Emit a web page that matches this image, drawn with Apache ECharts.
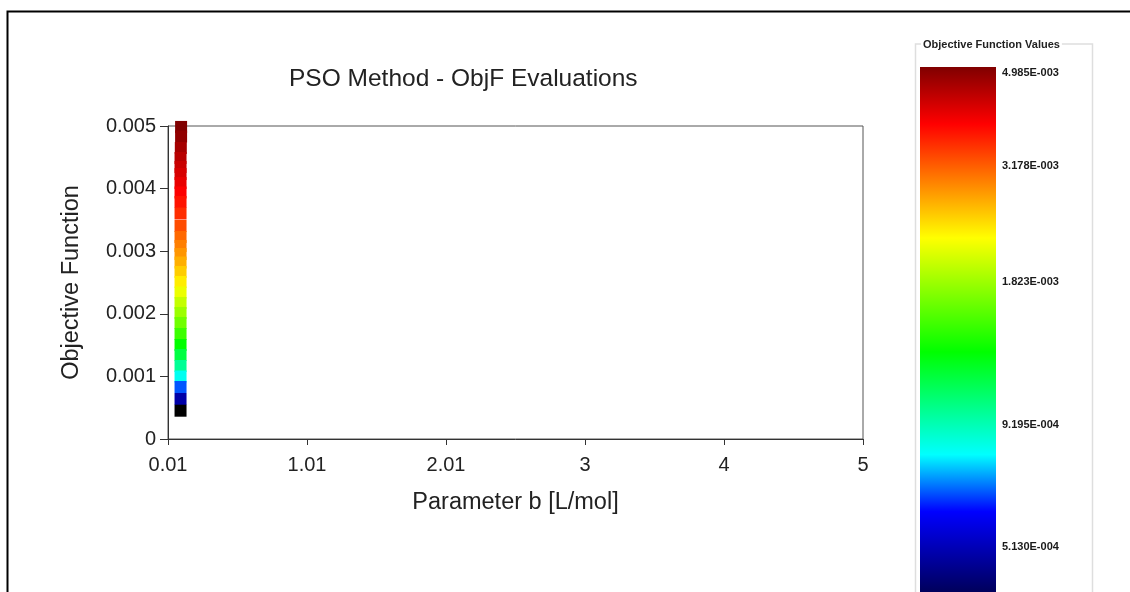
<!DOCTYPE html>
<html>
<head>
<meta charset="utf-8">
<title>PSO Method - ObjF Evaluations</title>
<script src="https://cdn.jsdelivr.net/npm/echarts@6/dist/echarts.min.js"></script>
<style>
  html, body { margin: 0; padding: 0; background: #fff; }
  #chart { width: 1130px; height: 592px; }
</style>
</head>
<body>
<div id="chart"></div>
<script>
// Objective-function evaluations of the PSO run (parameter b vs. ObjF)
const paramB = [0.104, 0.104, 0.102, 0.1, 0.1, 0.1, 0.1, 0.1, 0.1, 0.1,
                0.1, 0.1, 0.1, 0.1, 0.1, 0.1, 0.1, 0.1, 0.1, 0.1,
                0.1, 0.1, 0.1, 0.1, 0.1, 0.1, 0.1, 0.1, 0.1];
const objF = [0.004985, 0.004832, 0.004649, 0.004489, 0.004345, 0.004233, 0.004089, 0.003938, 0.003786, 0.003602,
              0.003403, 0.003227, 0.003083, 0.002955, 0.002819, 0.002668, 0.002508, 0.002340, 0.002173, 0.002013,
              0.001853, 0.001677, 0.001502, 0.001342, 0.001166, 0.000998, 0.000831, 0.000639, 0.000452];

// Axis ticks
const xTicks = [0.01, 1.008, 2.006, 3.004, 4.002, 5];
const yTicks = [0, 0.001, 0.002, 0.003, 0.004, 0.005];
// Colour-bar labels (log scale)
const legendTicks = [0.004985, 0.003178, 0.001823, 0.0009195, 0.000513];

const FONT = '"Liberation Sans", Arial, sans-serif';

// Jet-like palette, low value -> high value
const COLOR_STOPS = [[0, '#000000'], [0.22, '#0000ff'], [0.32, '#00ffff'], [0.5, '#00ff00'],
                     [0.7, '#ffff00'], [0.9, '#ff0000'], [1, '#800000']];
function hexToRgb(h) { return [1, 3, 5].map(i => parseInt(h.slice(i, i + 2), 16)); }
function samplePalette(stops, n) {
  const out = [];
  for (let k = 0; k < n; k++) {
    const t = k / (n - 1);
    let j = 0;
    while (j < stops.length - 2 && t > stops[j + 1][0]) j++;
    const [t0, c0] = stops[j], [t1, c1] = stops[j + 1];
    const u = (t - t0) / (t1 - t0);
    const a = hexToRgb(c0), b = hexToRgb(c1);
    const rgb = a.map((v, i) => Math.round(v + (b[i] - v) * u));
    out.push('rgb(' + rgb.join(',') + ')');
  }
  return out;
}
const palette = samplePalette(COLOR_STOPS, 101);
// colour-bar gradient runs top (high) to bottom (low)
const barGradient = new echarts.graphic.LinearGradient(0, 0, 0, 1,
  COLOR_STOPS.map(([t, c]) => ({ offset: 1 - t, color: c })).reverse());

const logMin = Math.log10(Math.min(...objF));
const logMax = Math.log10(Math.max(...objF));

function sciLabel(v) {
  const [m, e] = v.toExponential(3).split('e');
  const n = parseInt(e, 10);
  return m + 'E' + (n < 0 ? '-' : '+') + String(Math.abs(n)).padStart(3, '0');
}

const points = objF.map((v, i) => [paramB[i], v, Math.log10(v)]);

const chart = echarts.init(document.getElementById('chart'), null, { renderer: 'canvas' });
chart.setOption({
  animation: false,
  backgroundColor: '#ffffff',
  textStyle: { fontFamily: FONT },
  title: {
    text: 'PSO Method - ObjF Evaluations',
    left: 289, top: 67, padding: 0,
    textStyle: { fontFamily: FONT, fontSize: 24.5, fontWeight: 'normal', color: '#222' }
  },
  grid: [
    { left: 168, right: 267, top: 126, bottom: 153, show: true, borderColor: '#555', borderWidth: 1, backgroundColor: 'transparent' },
    { left: 998, width: 1, top: 72.5, height: 501 }
  ],
  xAxis: [
    {
      type: 'value', gridIndex: 0, min: 0.01, max: 5,
      name: 'Parameter b [L/mol]', nameLocation: 'middle', nameGap: 52,
      nameTextStyle: { fontFamily: FONT, fontSize: 23.5, color: '#222' },
      axisLine: { lineStyle: { color: '#333', width: 1 } },
      axisTick: { length: 6, customValues: xTicks, lineStyle: { color: '#333' } },
      axisLabel: {
        customValues: xTicks, fontFamily: FONT, fontSize: 20, color: '#222', margin: 16,
        formatter: v => String(+(+v).toFixed(2))
      },
      splitLine: { show: false }
    },
    { type: 'value', gridIndex: 1, show: false, min: 0, max: 1 }
  ],
  yAxis: [
    {
      type: 'value', gridIndex: 0, min: 0, max: 0.005, interval: 0.001,
      name: 'Objective Function', nameLocation: 'middle', nameGap: 84,
      nameTextStyle: { fontFamily: FONT, fontSize: 23.5, color: '#222' },
      axisLine: { show: true, lineStyle: { color: '#333', width: 1 } },
      axisTick: { show: true, length: 8, customValues: yTicks, lineStyle: { color: '#333' } },
      axisLabel: { customValues: yTicks, fontFamily: FONT, fontSize: 20, color: '#222', margin: 12 },
      splitLine: { show: false }
    },
    {
      type: 'value', gridIndex: 1, position: 'right', min: logMin, max: logMax,
      axisLine: { show: false }, axisTick: { show: false }, splitLine: { show: false },
      axisLabel: {
        customValues: legendTicks.map(v => Math.log10(v)), margin: 3,
        fontFamily: FONT, fontSize: 11, fontWeight: 'bold', color: '#1a1a1a',
        formatter: v => sciLabel(Math.pow(10, v))
      }
    }
  ],
  visualMap: {
    type: 'continuous', seriesIndex: 0, dimension: 2, show: false,
    min: logMin, max: logMax,
    inRange: { color: palette }
  },
  graphic: [
    // outer frame
    { type: 'polyline', silent: true, z: 10,
      shape: { points: [[7.5, 600], [7.5, 11.5], [1140, 11.5]] },
      style: { stroke: '#000', lineWidth: 2, fill: null } },
    // colour-bar box
    { type: 'rect', silent: true, z: 0,
      shape: { x: 915.5, y: 44, width: 177, height: 600 },
      style: { stroke: '#dedede', lineWidth: 1.5, fill: null } },
    { type: 'text', silent: true, z: 1, left: 921, top: 39,
      style: { text: 'Objective Function Values', fontFamily: FONT, fontSize: 11, fontWeight: 'bold',
               fill: '#222', backgroundColor: '#fff', padding: [0, 2] } },
    // colour bar
    { type: 'rect', silent: true, z: 1,
      shape: { x: 920, y: 67, width: 76, height: 570 },
      style: { fill: barGradient } }
  ],
  series: [{
    type: 'scatter', xAxisIndex: 0, yAxisIndex: 0,
    symbol: 'rect', symbolSize: 12,
    itemStyle: { opacity: 1 },
    data: points
  }]
});
</script>
</body>
</html>
